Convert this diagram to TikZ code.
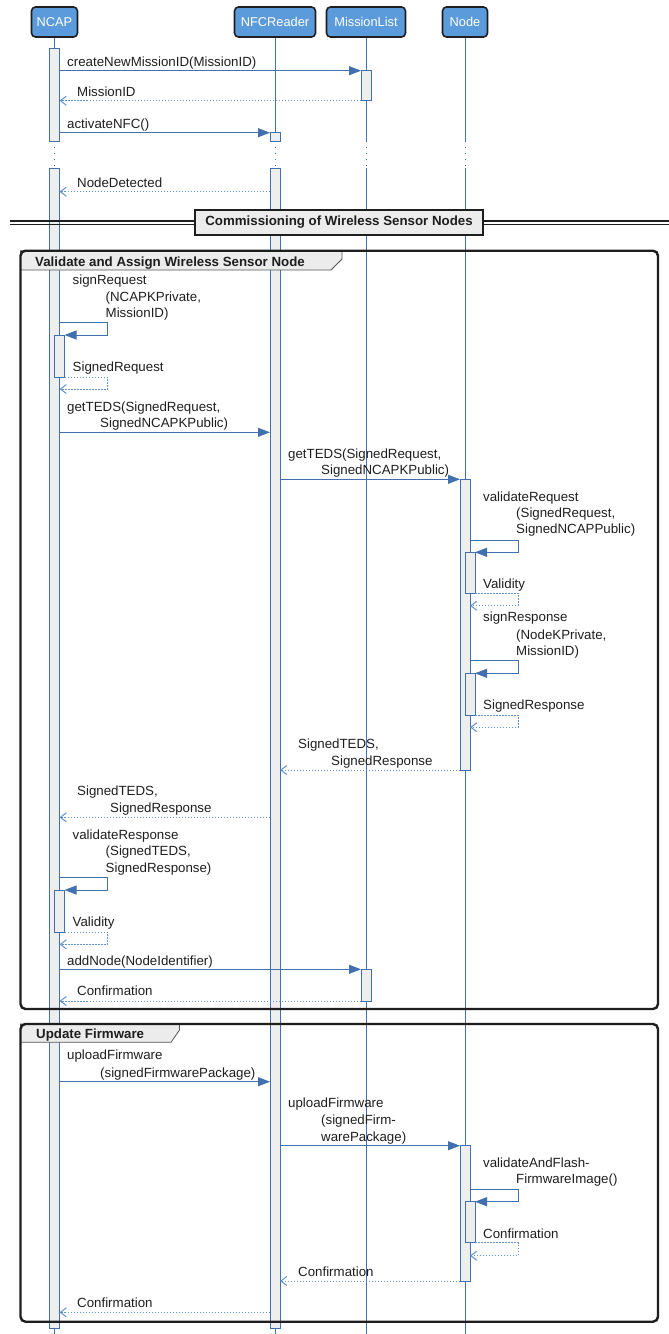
\documentclass[tikz,border=0pt]{standalone}
\usepackage{fontspec}
\setmainfont{Liberation Sans}
\usetikzlibrary{arrows.meta}
\definecolor{lifeblue}{RGB}{66,112,174}
\definecolor{retblue}{RGB}{96,146,206}
\definecolor{headfill}{RGB}{91,155,219}
\definecolor{barfill}{RGB}{238,238,238}
\definecolor{tabfill}{RGB}{236,236,236}
\definecolor{ink}{RGB}{30,30,30}

% activation bar: name, x centre, top y, bottom y
\newcommand\actbar[4]{\node[act, minimum height={#4-#3}] (#1) at (#2,{(#3+#4)/2}) {};}
% message text line: name, left x, vertical centre, text
\newcommand\msgtext[4]{\node[lbl] (#1) at (#2,#3+4.7) {#4};}

\begin{document}
\begin{tikzpicture}[x=1pt,y=-1pt,
  every node/.style={font=\fontsize{13.3}{16}\selectfont},
  head/.style={draw=ink, line width=1.6pt, fill=headfill, rounded corners=4pt,
    text=white, minimum height=30pt, inner sep=0pt, font=\fontsize{12.8}{15}\selectfont},
  life/.style={lifeblue, line width=1pt},
  lifegap/.style={lifeblue, line width=1pt, dash pattern=on 1pt off 5pt},
  act/.style={draw=lifeblue, fill=barfill, line width=1pt, minimum width=10pt,
    inner sep=0pt, outer sep=0pt},
  call/.style={lifeblue, line width=1pt, -{Triangle[length=12pt,width=9pt]}},
  reply/.style={retblue, line width=1pt, dash pattern=on 1.5pt off 1.5pt,
    -{Straight Barb[length=6pt,width=9pt]}},
  lbl/.style={anchor=base west, inner sep=0pt, text=ink},
  frame/.style={draw=ink, line width=2.4pt, rounded corners=5pt, outer sep=0pt,
    inner sep=0pt, anchor=north west},
  tab/.style={draw=ink!75, fill=tabfill, line width=0.8pt},
  tabtext/.style={anchor=base west, inner sep=0pt,
    font=\bfseries\fontsize{13.3}{16}\selectfont, text=ink},
  divline/.style={ink, line width=1.1pt}
]
\useasboundingbox (0,0) rectangle (669,1334);

% participants
\node[head, minimum width=46pt] (ncap) at (54.5,22) {NCAP};
\node[head, minimum width=81pt] (nfc)  at (275,22)  {NFCReader};
\node[head, minimum width=79pt] (ml)   at (366,22)  {MissionList};
\node[head, minimum width=45pt] (nd)   at (465,22)  {Node};

% reference heights
\coordinate (gapA) at (0,141);
\coordinate (gapB) at (0,168);
\coordinate (bot)  at (0,1334);

% lifelines with the waiting gap
\foreach \p in {ncap,nfc,ml,nd}{
  \draw[life] (\p.south) -- (\p.south |- gapA);
  \draw[lifegap] (\p.south |- gapA) -- (\p.south |- gapB);
  \draw[life] (\p.south |- gapB) -- (\p.south |- bot);
}

% activation bars
\actbar{nc1}{54.5}{48}{141}
\actbar{nc2}{54.5}{168}{1328}
\actbar{nf1}{275}{132.7}{141}
\actbar{nf2}{275}{168}{1328}
\actbar{ml1}{366}{70.7}{100.7}
\actbar{ml2}{366}{969.3}{1001}
\actbar{nd1}{465}{479.3}{770}
\actbar{nd2}{465}{1145.7}{1281}
\actbar{nn1}{59.5}{335}{377}
\actbar{nn2}{59.5}{890}{932}
\actbar{dn1}{470}{552.3}{593.3}
\actbar{dn2}{470}{673.3}{715}
\actbar{dn3}{470}{1201.7}{1242.7}

% section divider
\draw[divline] (10,221) -- (669,221);
\draw[divline] (10,224.3) -- (669,224.3);
\node[draw=ink, line width=1.8pt, fill=tabfill, minimum width=288pt, minimum height=25pt,
  inner sep=0pt, font=\bfseries\fontsize{13.3}{16}\selectfont, text=ink]
  (sec) at (339,222.5) {Commissioning of Wireless Sensor Nodes};

% combined fragments
\draw[tab] (20.5,250.7) -- (342,250.7) -- (342,259) -- (331,270) -- (20.5,270) -- cycle;
\node[frame, minimum width=637.5pt, minimum height=758.3pt] (f1) at (20.5,250.7) {};
\node[tabtext] (f1t) at (35,262+4.7) {Validate and Assign Wireless Sensor Node};

\draw[tab] (20.5,1024) -- (179.5,1024) -- (179.5,1030) -- (171,1042.3) -- (20.5,1042.3) -- cycle;
\node[frame, minimum width=637.5pt, minimum height=297.7pt] (f2) at (20.5,1024) {};
\node[tabtext] (f2t) at (36,1034+4.7) {Update Firmware};

% message heights and self-call turn points
\coordinate (y4)  at (0,191.7);
\coordinate (y5)  at (0,322.7);
\coordinate (y6)  at (0,389);
\coordinate (y7)  at (0,432.3);
\coordinate (y9)  at (0,540);
\coordinate (y10) at (0,605.7);
\coordinate (y11) at (0,660.7);
\coordinate (y12) at (0,727.3);
\coordinate (y14) at (0,817.3);
\coordinate (y15) at (0,877);
\coordinate (y16) at (0,944.3);
\coordinate (y19) at (0,1081.7);
\coordinate (y21) at (0,1189);
\coordinate (y22) at (0,1255.7);
\coordinate (y24) at (0,1312.3);
\coordinate (ncr) at (107.5,0);
\coordinate (ndr) at (518,0);

% messages
\draw[call]  (nc1.east |- ml1.north) -- (ml1.north west);
\draw[reply] (ml1.south west) -- (nc1.east |- ml1.south);
\draw[call]  (nc1.east |- nf1.north) -- (nf1.north west);
\draw[reply] (nf2.west |- y4) -- (nc2.east |- y4);

\draw[call]  (nc2.east |- y5) -- (ncr |- y5) -- (ncr |- nn1.north) -- (nn1.north east);
\draw[reply] (nn1.south east) -- (ncr |- nn1.south) -- (ncr |- y6) -- (nc2.east |- y6);
\draw[call]  (nc2.east |- y7) -- (nf2.west |- y7);
\draw[call]  (nf2.east |- nd1.north) -- (nd1.north west);
\draw[call]  (nd1.east |- y9) -- (ndr |- y9) -- (ndr |- dn1.north) -- (dn1.north east);
\draw[reply] (dn1.south east) -- (ndr |- dn1.south) -- (ndr |- y10) -- (nd1.east |- y10);
\draw[call]  (nd1.east |- y11) -- (ndr |- y11) -- (ndr |- dn2.north) -- (dn2.north east);
\draw[reply] (dn2.south east) -- (ndr |- dn2.south) -- (ndr |- y12) -- (nd1.east |- y12);
\draw[reply] (nd1.south west) -- (nf2.east |- nd1.south);
\draw[reply] (nf2.west |- y14) -- (nc2.east |- y14);
\draw[call]  (nc2.east |- y15) -- (ncr |- y15) -- (ncr |- nn2.north) -- (nn2.north east);
\draw[reply] (nn2.south east) -- (ncr |- nn2.south) -- (ncr |- y16) -- (nc2.east |- y16);
\draw[call]  (nc2.east |- ml2.north) -- (ml2.north west);
\draw[reply] (ml2.south west) -- (nc2.east |- ml2.south);

\draw[call]  (nc2.east |- y19) -- (nf2.west |- y19);
\draw[call]  (nf2.east |- nd2.north) -- (nd2.north west);
\draw[call]  (nd2.east |- y21) -- (ndr |- y21) -- (ndr |- dn3.north) -- (dn3.north east);
\draw[reply] (dn3.south east) -- (ndr |- dn3.south) -- (ndr |- y22) -- (nd2.east |- y22);
\draw[reply] (nd2.south west) -- (nf2.east |- nd2.south);
\draw[reply] (nf2.west |- y24) -- (nc2.east |- y24);

% message texts
\msgtext{t1}{67}{61.3}{createNewMissionID(MissionID)}
\msgtext{t2}{77}{92}{MissionID}
\msgtext{t3}{67}{123.3}{activateNFC()}
\msgtext{t4}{77}{183}{NodeDetected}
\msgtext{t5a}{72.5}{280}{signRequest}
\msgtext{t5b}{105.5}{296.7}{(NCAPKPrivate,}
\msgtext{t5c}{105.5}{312.7}{MissionID)}
\msgtext{t6}{72.5}{366.7}{SignedRequest}
\msgtext{t7a}{67}{406.7}{getTEDS(SignedRequest,}
\msgtext{t7b}{100}{422.3}{SignedNCAPKPublic)}
\msgtext{t8a}{288}{454}{getTEDS(SignedRequest,}
\msgtext{t8b}{321}{469.3}{SignedNCAPKPublic)}
\msgtext{t9a}{483}{496.7}{validateRequest}
\msgtext{t9b}{516}{512.7}{(SignedRequest,}
\msgtext{t9c}{516}{529}{SignedNCAPPublic)}
\msgtext{t10}{483}{583.3}{Validity}
\msgtext{t11a}{483}{616.7}{signResponse}
\msgtext{t11b}{516}{635}{(NodeKPrivate,}
\msgtext{t11c}{516}{650.7}{MissionID)}
\msgtext{t12}{483}{705}{SignedResponse}
\msgtext{t13a}{298}{743.3}{SignedTEDS,}
\msgtext{t13b}{331}{761}{SignedResponse}
\msgtext{t14a}{77}{791}{SignedTEDS,}
\msgtext{t14b}{110}{807.7}{SignedResponse}
\msgtext{t15a}{72.5}{834.3}{validateResponse}
\msgtext{t15b}{105.5}{850.7}{(SignedTEDS,}
\msgtext{t15c}{105.5}{867.3}{SignedResponse)}
\msgtext{t16}{72.5}{922}{Validity}
\msgtext{t17}{67}{961}{addNode(NodeIdentifier)}
\msgtext{t18}{77}{991}{Confirmation}
\msgtext{t19a}{67}{1055}{uploadFirmware}
\msgtext{t19b}{100}{1072.3}{(signedFirmwarePackage)}
\msgtext{t20a}{288}{1102.7}{uploadFirmware}
\msgtext{t20b}{321}{1119.3}{(signedFirm-}
\msgtext{t20c}{321}{1136.7}{warePackage)}
\msgtext{t21a}{483}{1162.3}{validateAndFlash-}
\msgtext{t21b}{516}{1178.3}{FirmwareImage()}
\msgtext{t22}{483}{1233.3}{Confirmation}
\msgtext{t23}{298}{1271.7}{Confirmation}
\msgtext{t24}{77}{1302.3}{Confirmation}
\end{tikzpicture}
\end{document}
